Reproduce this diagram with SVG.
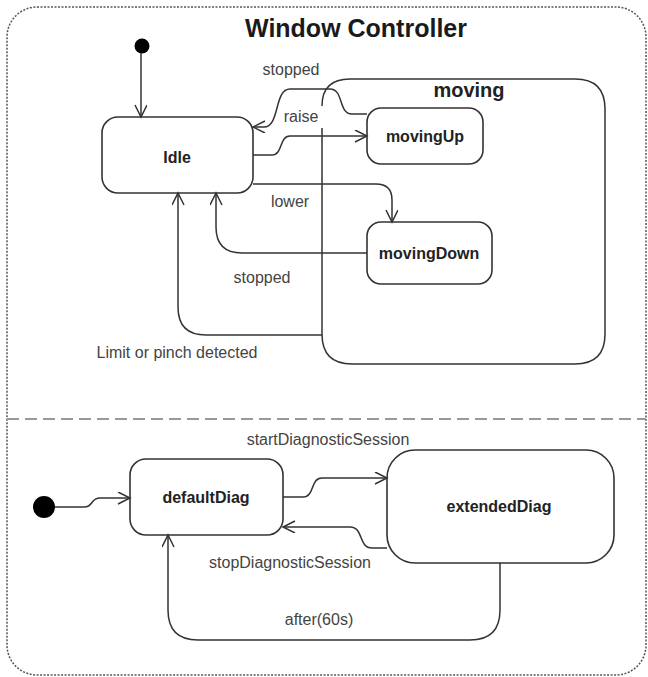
<svg xmlns="http://www.w3.org/2000/svg" width="648" height="677" viewBox="0 0 648 677">
  <style>
    .frame { fill: none; stroke: #555; stroke-width: 1.5; stroke-dasharray: 2 1.5; }
    .region { fill: none; stroke: #999; stroke-width: 2; stroke-dasharray: 12 6; }
    .state { fill: #fff; stroke: #333; stroke-width: 1.6; }
    .edge { fill: none; stroke: #333; stroke-width: 1.5; marker-end: url(#open); }
    .plain { fill: none; stroke: #333; stroke-width: 1.5; }
    .init { fill: #000; }
    .title { font-family: "Liberation Sans", Arial, sans-serif; font-weight: bold; font-size: 25px; fill: #1a1a1a; text-anchor: middle; }
    .name { font-family: "Liberation Sans", Arial, sans-serif; font-weight: bold; font-size: 16px; fill: #222; text-anchor: middle; }
    .comp { font-family: "Liberation Sans", Arial, sans-serif; font-weight: bold; font-size: 20px; fill: #222; text-anchor: middle; }
    .lbl { font-family: "Liberation Sans", Arial, sans-serif; font-size: 16px; fill: #444; text-anchor: middle; }
  </style>
  <defs>
    <marker id="open" markerUnits="userSpaceOnUse" markerWidth="16" markerHeight="16" refX="13" refY="6" orient="auto">
      <path d="M1,0 L13,6 L1,12" fill="none" stroke="#333" stroke-width="1.5"/>
    </marker>
  </defs>

  <!-- outer state machine frame -->
  <rect class="frame" x="7" y="7" width="639" height="668" rx="30" ry="30"/>
  <text class="title" x="356" y="37">Window Controller</text>

  <!-- orthogonal region separator -->
  <line class="region" x1="7" y1="419" x2="646" y2="419"/>

  <!-- upper region states -->
  <g id="init-top">
    <circle class="init" cx="142" cy="46" r="7.5"/>
  </g>
  <g id="idle">
    <rect class="state" x="102" y="117" width="151" height="76" rx="16" ry="16"/>
    <text class="name" x="177" y="163">Idle</text>
  </g>
  <g id="moving">
    <path class="plain" d="M322,128 L322,334 Q322,364 352,364 L575,364 Q605,364 605,334 L605,109 Q605,79 575,79 L350,79 Q322,79 322,106"/>
    <text class="comp" x="469" y="97">moving</text>
  </g>
  <g id="movingUp">
    <rect class="state" x="367" y="108" width="116" height="56" rx="14" ry="14"/>
    <text class="name" x="425" y="142">movingUp</text>
  </g>
  <g id="movingDown">
    <rect class="state" x="367" y="222" width="125" height="62" rx="14" ry="14"/>
    <text class="name" x="429" y="259">movingDown</text>
  </g>

  <!-- lower region states -->
  <g id="init-bottom">
    <circle class="init" cx="44" cy="507" r="11"/>
  </g>
  <g id="defaultDiag">
    <rect class="state" x="130" y="459" width="153" height="76" rx="16" ry="16"/>
    <text class="name" x="206" y="503">defaultDiag</text>
  </g>
  <g id="extendedDiag">
    <rect class="state" x="387" y="450" width="227" height="113" rx="28" ry="28"/>
    <text class="name" x="499" y="512">extendedDiag</text>
  </g>

  <!-- transitions -->
  <g id="connectors">
    <path class="edge" d="M141,53 L141,117"/>
    <path class="edge" d="M367,114 L352,114 C338,114 344,89 330,89 L290,89 C274,89 280,127 264,127 L253,127"/>
    <path class="edge" d="M253,155 L272,155 C283,155 279,136 290,136 L367,136"/>
    <path class="edge" d="M253,184 L376,184 Q392,184 392,200 L392,222"/>
    <path class="edge" d="M367,253 L242,253 Q216,253 216,227 L216,193"/>
    <path class="edge" d="M322,335 L206,335 Q178,335 178,307 L178,193"/>

    <path class="edge" d="M55,507 L84,507 C94,507 90,498 100,498 L130,498"/>
    <path class="edge" d="M283,497 L303,497 C315,497 310,478 322,478 L387,478"/>
    <path class="edge" d="M387,548 L372,548 C358,548 364,527 350,527 L283,527"/>
    <path class="edge" d="M500,563 L500,610 Q500,640 470,640 L198,640 Q168,640 168,610 L168,535"/>
  </g>

  <!-- transition labels -->
  <g id="labels">
    <text class="lbl" x="291" y="75">stopped</text>
    <text class="lbl" x="301" y="122">raise</text>
    <text class="lbl" x="290" y="207">lower</text>
    <text class="lbl" x="262" y="283">stopped</text>
    <text class="lbl" x="177" y="358">Limit or pinch detected</text>
    <text class="lbl" x="328" y="445">startDiagnosticSession</text>
    <text class="lbl" x="290" y="568">stopDiagnosticSession</text>
    <text class="lbl" x="319" y="625">after(60s)</text>
  </g>
</svg>
